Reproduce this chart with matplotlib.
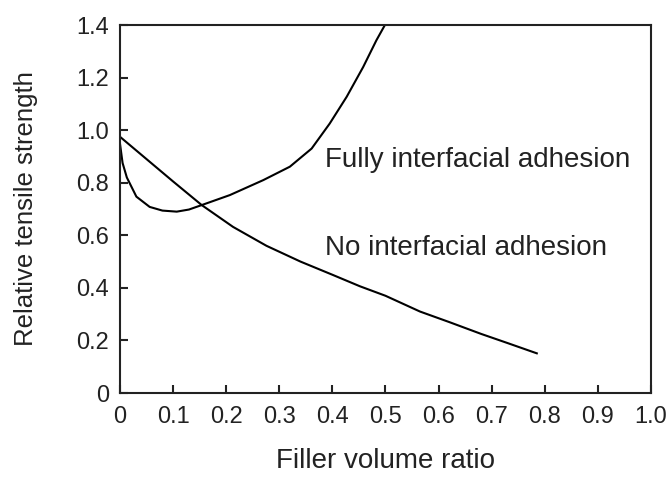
import matplotlib.pyplot as plt

plt.rcParams['font.family'] = ['Liberation Sans', 'DejaVu Sans']

# No interfacial adhesion curve
no_x = [0.0, 0.05, 0.1, 0.154, 0.213, 0.276, 0.34, 0.4, 0.452, 0.5, 0.565, 0.62, 0.68, 0.73, 0.785]
no_y = [0.975, 0.89, 0.805, 0.715, 0.632, 0.56, 0.50, 0.45, 0.406, 0.37, 0.31, 0.27, 0.225, 0.19, 0.151]

# Fully interfacial adhesion curve
full_x = [0.0, 0.005, 0.013, 0.031, 0.056, 0.08, 0.107, 0.13, 0.154, 0.207, 0.27, 0.32, 0.361, 0.395, 0.427, 0.458, 0.483, 0.499]
full_y = [0.95, 0.875, 0.82, 0.747, 0.708, 0.694, 0.69, 0.698, 0.715, 0.753, 0.81, 0.861, 0.93, 1.025, 1.127, 1.24, 1.342, 1.4]

xticks = [0, 0.1, 0.2, 0.3, 0.4, 0.5, 0.6, 0.7, 0.8, 0.9, 1.0]
xtick_labels = ['0', '0.1', '0.2', '0.3', '0.4', '0.5', '0.6', '0.7', '0.8', '0.9', '1.0']
yticks = [0, 0.2, 0.4, 0.6, 0.8, 1.0, 1.2, 1.4]
ytick_labels = ['0', '0.2', '0.4', '0.6', '0.8', '1.0', '1.2', '1.4']

fig = plt.figure(figsize=(6.7, 4.79), dpi=100)
ax = fig.add_axes([0.179, 0.1795, 0.7926, 0.7683])

ax.plot(no_x, no_y, color='black', linewidth=1.5)
ax.plot(full_x, full_y, color='black', linewidth=1.5)

ax.text(0.386, 0.859, 'Fully interfacial adhesion', fontsize=20, color='#222222')
ax.text(0.386, 0.525, 'No interfacial adhesion', fontsize=20, color='#222222')

ax.set_xlim(0, 1.0)
ax.set_ylim(0, 1.4)
ax.set_xticks(xticks)
ax.set_xticklabels(xtick_labels)
ax.set_yticks(yticks)
ax.set_yticklabels(ytick_labels)
ax.tick_params(direction='in', length=6, width=1.5, labelsize=17, colors='#222222')
ax.tick_params(axis='x', pad=9)
ax.tick_params(axis='y', pad=8)

for s in ax.spines.values():
    s.set_linewidth(1.5)
    s.set_color('#222222')

ax.set_xlabel('Filler volume ratio', fontsize=20, color='#222222', labelpad=15)
ax.set_ylabel('Relative tensile strength', fontsize=18.5, color='#222222', labelpad=27)

plt.savefig('out.png', dpi=100)
